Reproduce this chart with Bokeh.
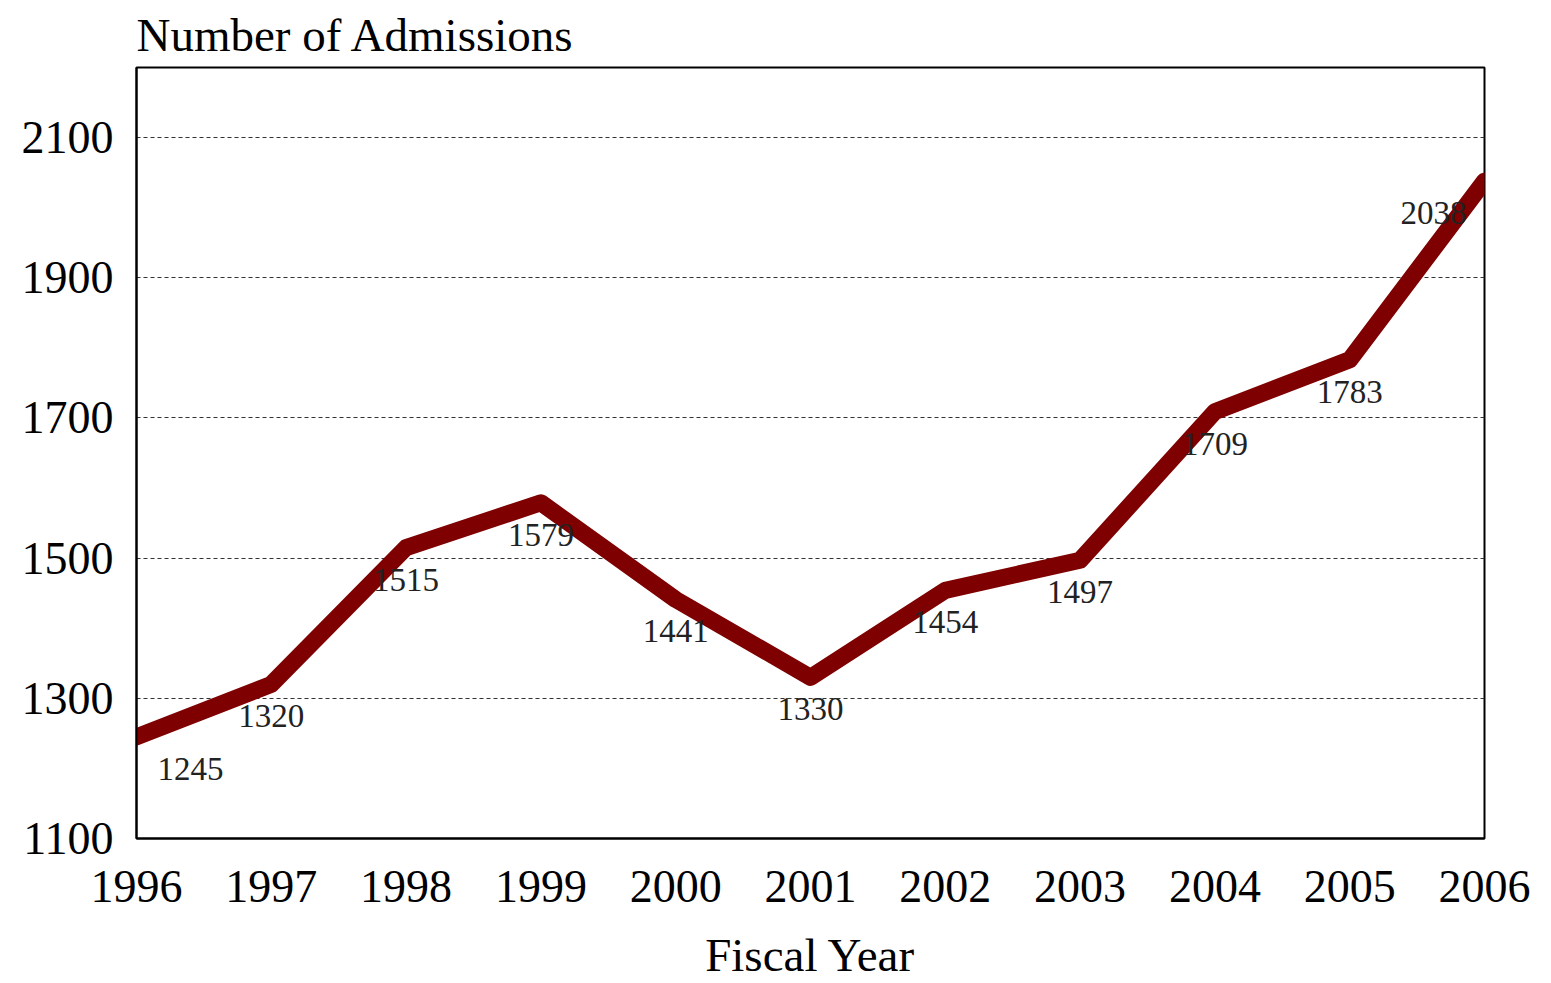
from bokeh.plotting import figure
from bokeh.models import ColumnDataSource, FixedTicker, Range1d, LabelSet
from bokeh.embed import file_html
from bokeh.resources import INLINE

years = [1996, 1997, 1998, 1999, 2000, 2001, 2002, 2003, 2004, 2005, 2006]
admissions = [1245, 1320, 1515, 1579, 1441, 1330, 1454, 1497, 1709, 1783, 2038]
label_dx = [54, 0, 0, 0, 0, 0, 0, 0, 0, 0, -51]
y_ticks = [1100, 1300, 1500, 1700, 1900, 2100]

FONT = "Liberation Serif"

src = ColumnDataSource(dict(x=years, y=admissions, t=[str(v) for v in admissions], dx=label_dx))

p = figure(width=1545, height=983, output_backend="svg", toolbar_location=None,
           x_range=Range1d(1996, 2006), y_range=Range1d(1100, 2200),
           min_border_left=136, min_border_right=61, min_border_top=67, min_border_bottom=145)

p.title.text = "Number of Admissions"
p.title.text_font = FONT
p.title.text_font_size = "47px"
p.title.text_font_style = "normal"
p.title.text_color = "black"
p.title.align = "left"
p.title.offset = 0
p.title.standoff = 13

p.outline_line_color = "black"
p.outline_line_width = 2
p.background_fill_color = "white"
p.border_fill_color = "white"

p.line("x", "y", source=src, line_color="#7f0000", line_width=17,
       line_cap="round", line_join="round")

labels = LabelSet(x="x", y="y", text="t", x_offset="dx", y_offset=-32, source=src,
                  text_font=FONT, text_font_size="33px", text_color="#222222",
                  text_align="center", text_baseline="middle")
p.add_layout(labels)

p.xaxis.ticker = FixedTicker(ticks=years)
p.yaxis.ticker = FixedTicker(ticks=y_ticks)
for ax in (p.xaxis[0], p.yaxis[0]):
    ax.axis_line_color = "black"
    ax.axis_line_width = 2
    ax.major_tick_line_color = None
    ax.minor_tick_line_color = None
    ax.major_label_text_font = FONT
    ax.major_label_text_font_size = "46px"
    ax.major_label_text_color = "black"

p.yaxis.major_label_standoff = 17
p.xaxis.major_label_standoff = 26
p.xaxis.axis_label = "Fiscal Year"
p.xaxis.axis_label_text_font = FONT
p.xaxis.axis_label_text_font_size = "47px"
p.xaxis.axis_label_text_font_style = "normal"
p.xaxis.axis_label_text_color = "black"
p.xaxis.axis_label_standoff = 24

p.xgrid.grid_line_color = None
p.ygrid.ticker = FixedTicker(ticks=[1300, 1500, 1700, 1900, 2100])
p.ygrid.grid_line_color = "#333333"
p.ygrid.grid_line_width = 1
p.ygrid.grid_line_dash = "4 3"

open("out.html", "w").write(file_html(p, INLINE))
